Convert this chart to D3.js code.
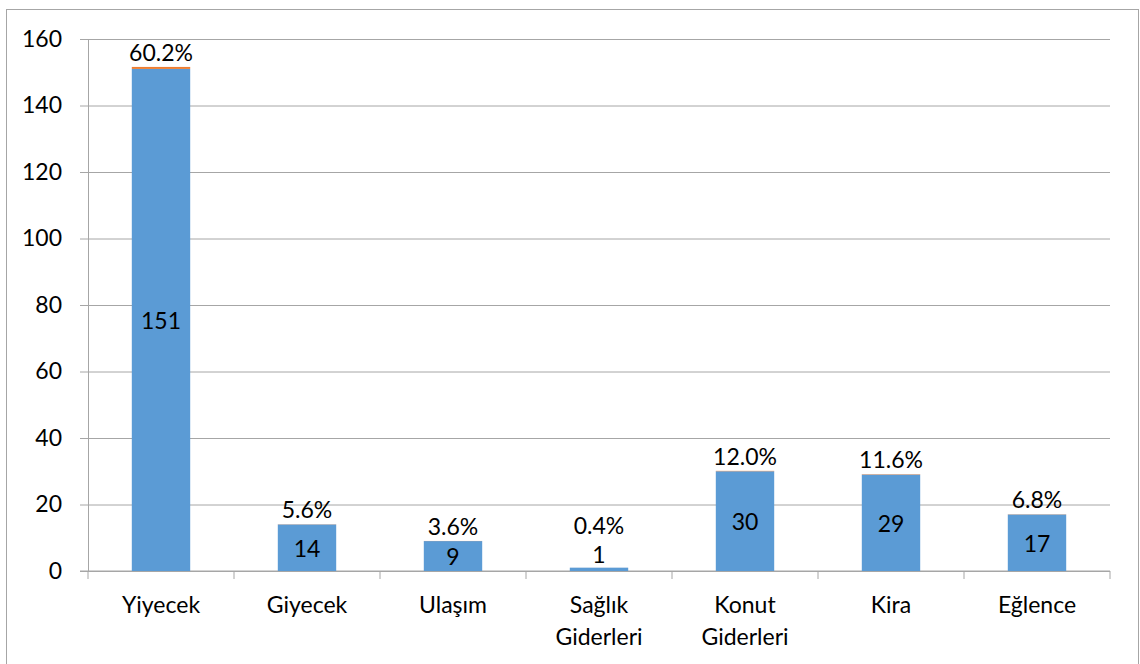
<!DOCTYPE html>
<html>
<head>
<meta charset="utf-8">
<script src="https://cdn.jsdelivr.net/npm/d3@7"></script>
<style>
  body { margin: 0; background: #fff; }
  svg text { font-family: Lato, "Open Sans", sans-serif; font-size: 23px; fill: #000; }
</style>
</head>
<body>
<div id="chart"></div>
<script>
const categories = [["Yiyecek"], ["Giyecek"], ["Ulaşım"], ["Sağlık", "Giderleri"], ["Konut", "Giderleri"], ["Kira"], ["Eğlence"]];
const amounts = [151, 14, 9, 1, 30, 29, 17];
const shares = [0.602, 0.056, 0.036, 0.004, 0.12, 0.116, 0.068];
const yTicks = [0, 20, 40, 60, 80, 100, 120, 140, 160];

const w = 1140;
const h = 664;
const plotLeft = 88, plotRight = 1110, plotTop = 39, plotBottom = 571;
const gridColor = "#a6a6a6";

const svg = d3.select("#chart")
    .append("svg")
    .attr("width", w)
    .attr("height", h);

// chart frame
svg.append("rect")
    .attr("x", 6.5)
    .attr("y", 9.5)
    .attr("width", 1132)
    .attr("height", 700)
    .attr("fill", "#fff")
    .attr("stroke", gridColor);

const names = categories.map(c => c.join(" "));

const x = d3.scaleBand()
    .domain(names)
    .range([plotLeft, plotRight])
    .paddingInner(0.6)
    .paddingOuter(0.3);

const y = d3.scaleLinear()
    .domain([0, 160])
    .range([plotBottom, plotTop]);

// gridlines
const grid = svg.append("g")
    .attr("transform", `translate(${plotRight}, 0)`)
    .call(d3.axisLeft(y).tickValues(yTicks).tickSize(plotRight - plotLeft + 8).tickFormat(""));
grid.select(".domain").remove();
grid.selectAll(".tick line").attr("stroke", gridColor);

// y axis
const gy = svg.append("g")
    .attr("transform", `translate(${plotLeft}, 0)`)
    .call(d3.axisLeft(y).tickValues(yTicks).tickSize(0).tickPadding(26).tickFormat(d3.format("d")));
gy.select(".domain").attr("stroke", gridColor);
gy.selectAll(".tick text").attr("font-size", null).attr("font-family", null).attr("fill", null);

// category axis
const gx = svg.append("g")
    .attr("transform", `translate(0, ${plotBottom})`);
gx.append("line")
    .attr("x1", plotLeft - 8).attr("x2", plotRight)
    .attr("stroke", gridColor);
const step = x.step();
d3.range(names.length + 1).forEach(i => {
    gx.append("line")
        .attr("x1", plotLeft + i * step).attr("x2", plotLeft + i * step)
        .attr("y1", 0).attr("y2", 8)
        .attr("stroke", gridColor);
});
gx.selectAll("text.cat")
    .data(categories)
    .enter()
    .append("text")
    .attr("class", "cat")
    .attr("text-anchor", "middle")
    .attr("x", (d, i) => x(names[i]) + x.bandwidth() / 2)
    .attr("y", 42)
    .each(function (d) {
        const t = d3.select(this);
        d.forEach((line, j) => {
            t.append("tspan")
                .attr("x", t.attr("x"))
                .attr("dy", j === 0 ? 0 : 32)
                .text(line);
        });
    });

// stacked bars
const bars = svg.append("g");
bars.selectAll("rect.amount")
    .data(amounts)
    .enter()
    .append("rect")
    .attr("class", "amount")
    .attr("x", (d, i) => x(names[i]))
    .attr("width", x.bandwidth())
    .attr("y", d => y(d))
    .attr("height", d => y(0) - y(d))
    .attr("fill", "#5b9bd5");

bars.selectAll("rect.share")
    .data(shares)
    .enter()
    .append("rect")
    .attr("class", "share")
    .attr("x", (d, i) => x(names[i]))
    .attr("width", x.bandwidth())
    .attr("y", (d, i) => y(amounts[i] + d))
    .attr("height", (d, i) => y(amounts[i]) - y(amounts[i] + d))
    .attr("fill", "#ed7d31");

// labels
const labels = svg.append("g");
const valueBase = amounts.map(d => {
    const hgt = y(0) - y(d);
    return hgt < 22 ? y(d) - 5 : (y(d) + y(0)) / 2 + 9;
});
labels.selectAll("text.val")
    .data(amounts)
    .enter()
    .append("text")
    .attr("class", "val")
    .attr("text-anchor", "middle")
    .attr("x", (d, i) => x(names[i]) + x.bandwidth() / 2)
    .attr("y", (d, i) => valueBase[i])
    .text(d => d);

labels.selectAll("text.pct")
    .data(shares)
    .enter()
    .append("text")
    .attr("class", "pct")
    .attr("text-anchor", "middle")
    .attr("x", (d, i) => x(names[i]) + x.bandwidth() / 2)
    .attr("y", (d, i) => {
        const hgt = y(0) - y(amounts[i]);
        return hgt < 22 ? valueBase[i] - 29 : y(amounts[i] + d) - 6;
    })
    .text(d => d3.format(".1%")(d));
</script>
</body>
</html>
